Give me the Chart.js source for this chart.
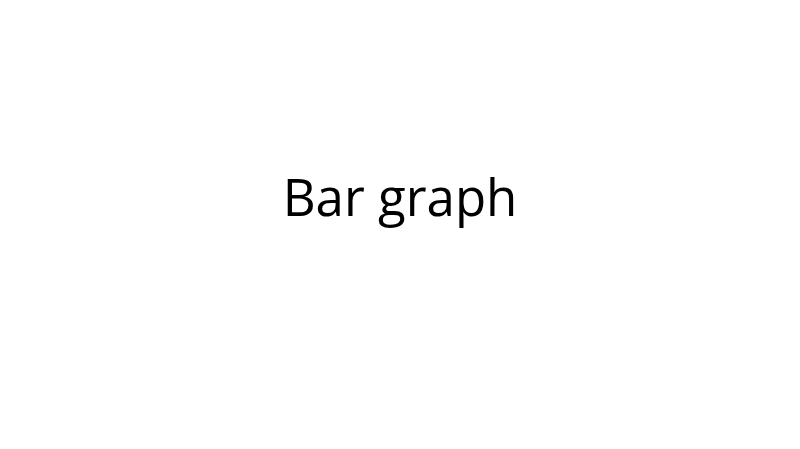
<!DOCTYPE html>
<html>
<head>
<meta charset="utf-8">
<script src="https://cdn.jsdelivr.net/npm/chart.js@4/dist/chart.umd.min.js"></script>
<style>
html,body{margin:0;padding:0;background:#fff;}
#wrap{width:800px;height:449px;}
</style>
</head>
<body>
<div id="wrap"><canvas id="c"></canvas></div>
<script>
const titleText = "Bar graph";
const categories = [];
const seriesValues = [];

new Chart(document.getElementById('c'), {
  type: 'bar',
  data: { labels: categories, datasets: [{ label: '', data: seriesValues }] },
  options: {
    responsive: true,
    maintainAspectRatio: false,
    animation: false,
    plugins: {
      legend: { display: false },
      tooltip: { enabled: false },
      title: {
        display: true,
        text: titleText,
        color: '#000',
        font: { family: 'Open Sans', size: 51, weight: 'normal' },
        padding: { top: 171, bottom: 0 }
      }
    },
    scales: { x: { display: false }, y: { display: false } }
  }
});
</script>
</body>
</html>
